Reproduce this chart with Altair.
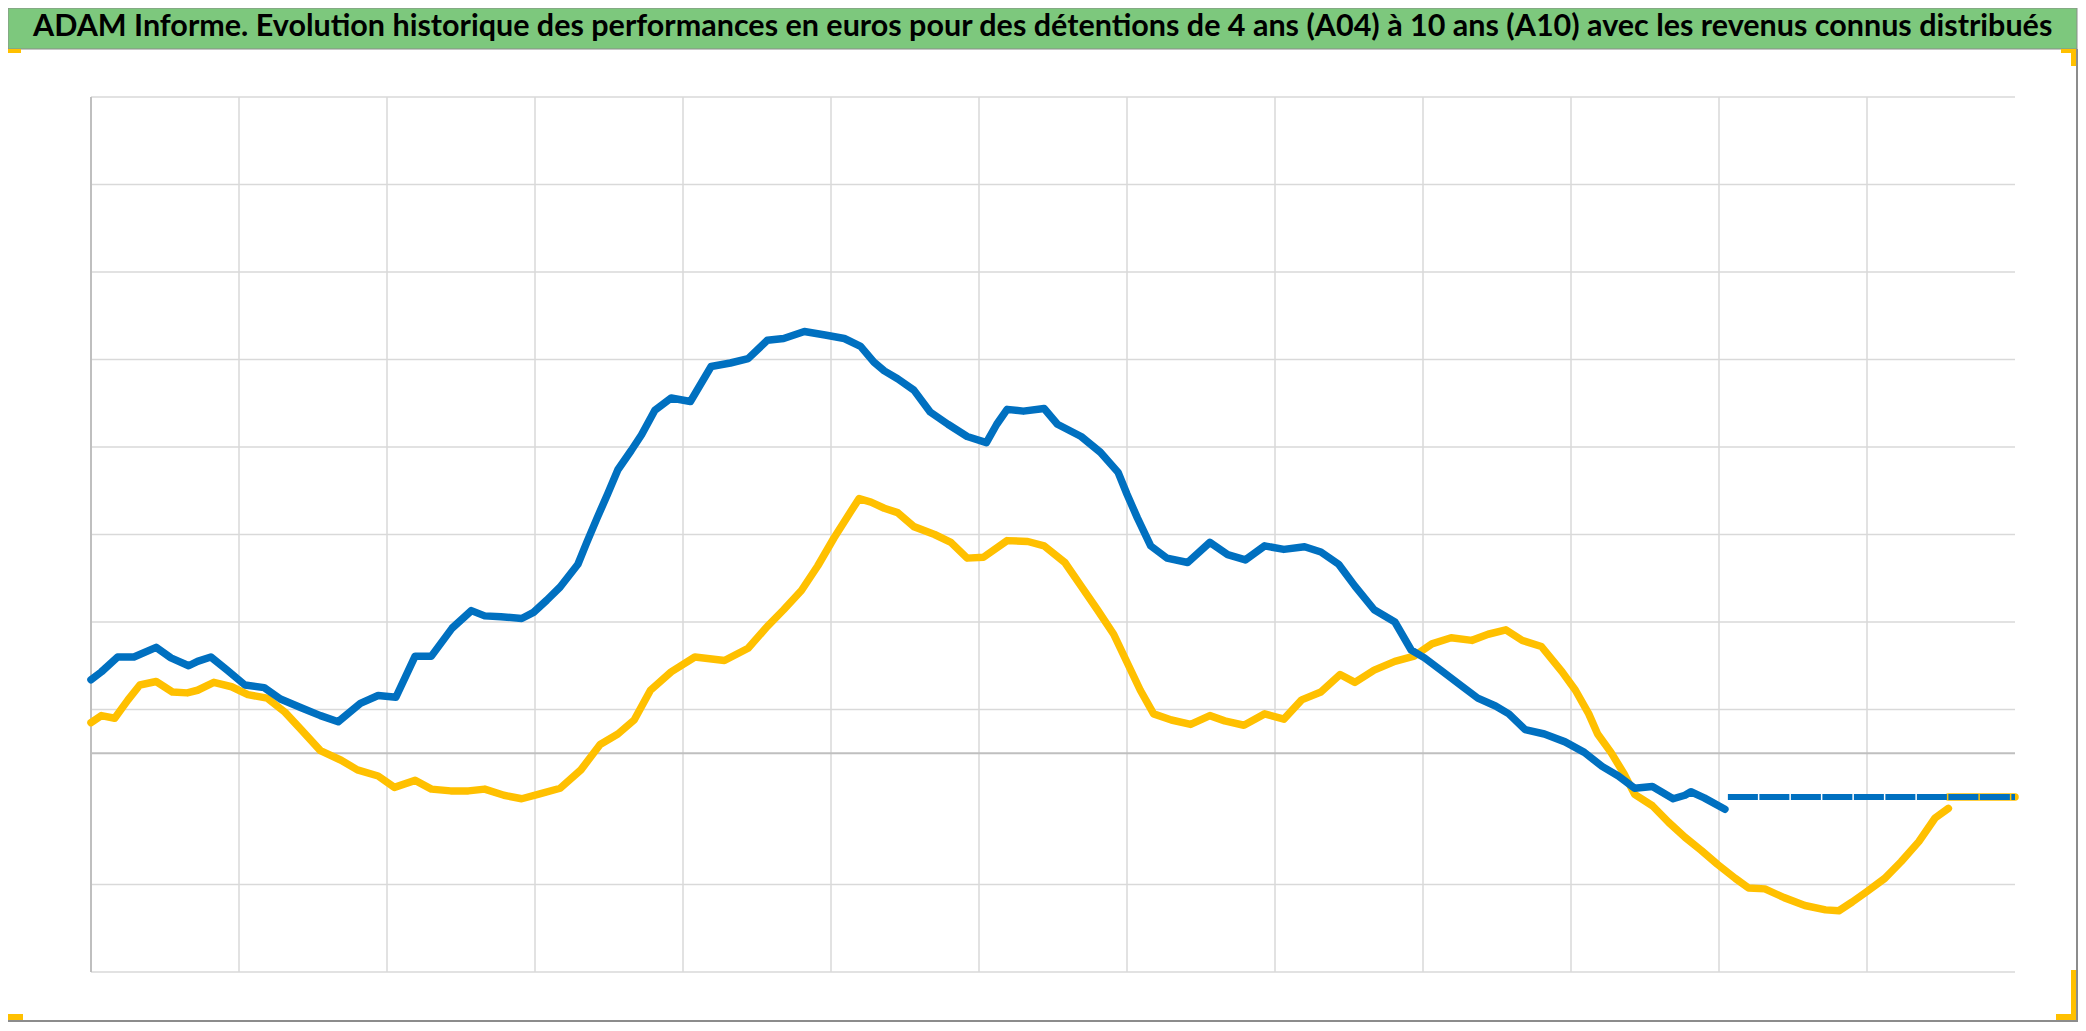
import altair as alt
import pandas as pd

TITLE = ("ADAM Informe. Evolution historique des performances en euros pour des "
         "détentions de 4 ans (A04) à 10 ans (A10) avec les revenus connus distribués")

# Series A04 (blue) – x in grid intervals, y in grid units (0 = zero line)
a04_x = [0.0, 0.07, 0.18, 0.29, 0.44, 0.54, 0.66, 0.72, 0.81, 0.92, 1.04, 1.17, 1.28, 1.42,
         1.55, 1.67, 1.82, 1.94, 2.06, 2.19, 2.3, 2.44, 2.57, 2.66, 2.77, 2.91, 2.99, 3.08,
         3.17, 3.29, 3.35, 3.42, 3.49, 3.56, 3.65, 3.72, 3.81, 3.92, 4.05, 4.12, 4.19, 4.32,
         4.44, 4.57, 4.68, 4.82, 4.96, 5.09, 5.2, 5.29, 5.36, 5.45, 5.56, 5.67, 5.79, 5.92,
         6.05, 6.12, 6.19, 6.3, 6.44, 6.53, 6.69, 6.82, 6.94, 7.0, 7.07, 7.16, 7.27, 7.41,
         7.56, 7.68, 7.8, 7.93, 8.06, 8.2, 8.31, 8.43, 8.54, 8.67, 8.81, 8.92, 9.01, 9.12,
         9.26, 9.37, 9.49, 9.58, 9.69, 9.82, 9.96, 10.09, 10.21, 10.32, 10.43, 10.55, 10.69,
         10.77, 10.81, 10.9, 11.04]
a04_y = [0.84, 0.93, 1.1, 1.1, 1.21, 1.09, 1.0, 1.05, 1.1, 0.95, 0.78, 0.75, 0.62, 0.52,
         0.43, 0.36, 0.57, 0.66, 0.64, 1.11, 1.11, 1.43, 1.63, 1.57, 1.56, 1.54, 1.61, 1.75,
         1.9, 2.16, 2.41, 2.69, 2.96, 3.24, 3.46, 3.64, 3.92, 4.06, 4.02, 4.22, 4.42, 4.46,
         4.51, 4.72, 4.74, 4.82, 4.78, 4.74, 4.65, 4.47, 4.37, 4.28, 4.15, 3.9, 3.76, 3.62,
         3.55, 3.76, 3.93, 3.91, 3.94, 3.76, 3.62, 3.44, 3.21, 2.96, 2.69, 2.37, 2.23, 2.18,
         2.41, 2.27, 2.21, 2.37, 2.33, 2.36, 2.3, 2.16, 1.91, 1.64, 1.5, 1.18, 1.09, 0.95,
         0.77, 0.63, 0.54, 0.45, 0.27, 0.22, 0.13, 0.01, -0.15, -0.26, -0.4, -0.38, -0.52,
         -0.48, -0.44, -0.51, -0.64]

# Series A10 (yellow)
a10_x = [0.0, 0.07, 0.16, 0.25, 0.33, 0.44, 0.55, 0.65, 0.72, 0.83, 0.95, 1.06, 1.19, 1.31,
         1.42, 1.55, 1.69, 1.8, 1.94, 2.05, 2.19, 2.3, 2.43, 2.55, 2.66, 2.79, 2.91, 3.02,
         3.17, 3.31, 3.44, 3.56, 3.67, 3.78, 3.92, 4.08, 4.28, 4.44, 4.57, 4.68, 4.8, 4.91,
         5.02, 5.14, 5.19, 5.27, 5.36, 5.45, 5.56, 5.7, 5.81, 5.92, 6.03, 6.19, 6.33, 6.44,
         6.58, 6.69, 6.8, 6.91, 7.0, 7.09, 7.18, 7.3, 7.43, 7.56, 7.66, 7.79, 7.93, 8.06,
         8.18, 8.31, 8.44, 8.54, 8.67, 8.81, 8.94, 9.06, 9.19, 9.33, 9.44, 9.56, 9.67, 9.8,
         9.94, 10.03, 10.12, 10.18, 10.27, 10.36, 10.43, 10.55, 10.66, 10.77, 10.88, 10.99,
         11.11, 11.2, 11.31, 11.44, 11.58, 11.72, 11.81, 11.9, 12.0, 12.12, 12.23, 12.35,
         12.46, 12.55]
a10_y = [0.35, 0.43, 0.4, 0.61, 0.78, 0.82, 0.7, 0.69, 0.72, 0.81, 0.76, 0.67, 0.63, 0.47,
         0.27, 0.03, -0.08, -0.19, -0.26, -0.39, -0.31, -0.41, -0.43, -0.43, -0.41, -0.48,
         -0.52, -0.47, -0.4, -0.19, 0.1, 0.22, 0.38, 0.72, 0.93, 1.1, 1.06, 1.2, 1.45, 1.64,
         1.86, 2.14, 2.46, 2.78, 2.91, 2.87, 2.8, 2.75, 2.59, 2.5, 2.41, 2.23, 2.24, 2.43,
         2.42, 2.37, 2.18, 1.91, 1.64, 1.36, 1.04, 0.72, 0.45, 0.38, 0.33, 0.43, 0.37, 0.32,
         0.45, 0.39, 0.61, 0.7, 0.9, 0.81, 0.95, 1.05, 1.11, 1.25, 1.32, 1.29, 1.36, 1.41,
         1.29, 1.22, 0.93, 0.72, 0.45, 0.22, 0.01, -0.24, -0.47, -0.6, -0.79, -0.96, -1.11,
         -1.27, -1.43, -1.54, -1.55, -1.65, -1.74, -1.79, -1.8, -1.7, -1.58, -1.43, -1.24,
         -1.01, -0.74, -0.63]

# flat tails (markers only)
flat_level = -0.5
a04_flat_x = [11.06, 13.0]
a10_flat_x = [12.55, 13.0]

grid_y = [-2.5, -1.5, 0.5, 1.5, 2.5, 3.5, 4.5, 5.5, 6.5, 7.5]
grid_x = [1, 2, 3, 4, 5, 6, 7, 8, 9, 10, 11, 12]

BLUE = "#0070C0"
YELLOW = "#FFC000"
GREEN = "#7DC87D"

W, H = 1924, 875
xs = alt.Scale(domain=[0, 13], nice=False, zero=False)
ys = alt.Scale(domain=[-2.5, 7.5], nice=False, zero=False)

one = pd.DataFrame({"d": [0]})

def rect(x, x2, y, y2, color, stroke=None):
    kw = dict(color=color)
    if stroke:
        kw = dict(fill=color, stroke=stroke, strokeWidth=1)
    return alt.Chart(one).mark_rect(**kw).encode(
        x=alt.value(x), x2=alt.value(x2), y=alt.value(y), y2=alt.value(y2))

hgrid = alt.Chart(pd.DataFrame({"v": grid_y})).mark_rule(color="#D9D9D9", strokeWidth=1.5).encode(
    y=alt.Y("v:Q", scale=ys, axis=None))
vgrid = alt.Chart(pd.DataFrame({"u": grid_x})).mark_rule(color="#D9D9D9", strokeWidth=1.5).encode(
    x=alt.X("u:Q", scale=xs, axis=None))
zero_rule = alt.Chart(pd.DataFrame({"v": [0]})).mark_rule(color="#BFBFBF", strokeWidth=2).encode(
    y=alt.Y("v:Q", scale=ys, axis=None))
left_axis = alt.Chart(pd.DataFrame({"u": [0]})).mark_rule(color="#BFBFBF", strokeWidth=2).encode(
    x=alt.X("u:Q", scale=xs, axis=None))

def series(xv, yv, color, width, dash=None):
    df = pd.DataFrame({"x": xv, "y": yv})
    kw = dict(color=color, strokeWidth=width, strokeJoin="round", strokeCap="round")
    if dash:
        kw["strokeDash"] = dash
        kw["strokeCap"] = "butt"
    return alt.Chart(df).mark_line(**kw).encode(
        x=alt.X("x:Q", scale=xs, axis=None),
        y=alt.Y("y:Q", scale=ys, axis=None),
        order="x:Q")

a10_line = series(a10_x, a10_y, YELLOW, 7.5)
a04_line = series(a04_x, a04_y, BLUE, 7.5)
a10_flat = series(a10_flat_x, [flat_level] * len(a10_flat_x), YELLOW, 7.5)
a04_flat = series(a04_flat_x, [flat_level] * len(a04_flat_x), BLUE, 6, dash=[30, 1.5])

title_bar = rect(-83, 1986, -89, -48, GREEN, stroke="#8C8C8C")
title_text = alt.Chart(pd.DataFrame({"t": [TITLE]})).mark_text(
    align="left", baseline="middle", font="Lato", fontWeight="bold", fontSize=30.5, color="#000000"
).encode(text="t:N", x=alt.value(-58), y=alt.value(-70))

right_border = rect(1985, 1987, -48, 926, "#8C8C8C")
bottom_border = rect(-83, 1987, 923, 925, "#8C8C8C")

marks_yellow = [
    rect(-83, -70, -48, -44, YELLOW),
    rect(1970, 1985, -48, -44, YELLOW),
    rect(1980, 1985, -48, -31, YELLOW),
    rect(1980, 1985, 873, 923, YELLOW),
    rect(1965, 1985, 917, 923, YELLOW),
    rect(-83, -68, 917, 923, YELLOW),
]

chart = alt.layer(
    hgrid, vgrid, zero_rule, left_axis,
    a10_line, a10_flat, a04_line, a04_flat,
    title_bar, title_text, right_border, bottom_border, *marks_yellow
).properties(
    width=W, height=H,
    padding={"left": 83, "top": 89, "right": 63, "bottom": 50},
    autosize=alt.AutoSizeParams(type="none"),
    background="white",
).configure_view(stroke=None)

chart.save("out.html", embed_options={"renderer": "svg", "actions": False})
